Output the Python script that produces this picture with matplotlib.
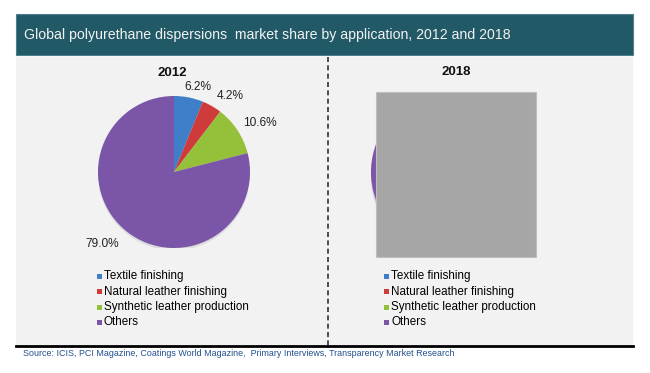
import matplotlib.pyplot as plt
from matplotlib.patches import Rectangle, Circle

plt.rcParams['font.family'] = ['Liberation Sans', 'DejaVu Sans']

# data
applications = ["Textile finishing", "Natural leather finishing",
                "Synthetic leather production", "Others"]
shares_2012 = [6.2, 4.2, 10.6, 79.0]
labels_2012 = ["6.2%", "4.2%", "10.6%", "79.0%"]
# 2018 pie is hidden behind a grey box in the source, only the purple edge shows
shares_2018 = [7.0, 4.5, 12.0, 76.5]
colors = ["#3f7fc9", "#cf3a3a", "#94c03a", "#7b55a8"]

W, H = 650, 373
fig = plt.figure(figsize=(W / 100, H / 100), dpi=100)
fig.patch.set_facecolor("white")

# background axes in pixel coordinates
bg = fig.add_axes([0, 0, 1, 1])
bg.set_xlim(0, W)
bg.set_ylim(H, 0)
bg.axis("off")

bg.add_patch(Rectangle((16, 14), 617, 41, facecolor="#225966", edgecolor="#4f7f8c", lw=0.8))
bg.text(24, 35, "Global polyurethane dispersions  market share by application, 2012 and 2018",
        color="#f2f2f2", fontsize=10.2, va="center", ha="left")
bg.add_patch(Rectangle((16, 57), 617, 288, facecolor="#f2f2f2", edgecolor="none"))
bg.plot([16, 633], [346, 346], color="black", lw=2)
bg.plot([328, 328], [57, 345], color="#333333", lw=1.2, ls=(0, (3, 2)))
bg.text(23, 354, "Source: ICIS, PCI Magazine, Coatings World Magazine,  Primary Interviews, Transparency Market Research",
        color="#1f4e8c", fontsize=6.4, va="center", ha="left")

bg.text(172, 73, "2012", fontsize=9.5, fontweight="bold", ha="center", va="center", color="#111111")
bg.text(456, 72, "2018", fontsize=9.5, fontweight="bold", ha="center", va="center", color="#111111")


def pie_axes(cx, cy, r):
    ax = fig.add_axes([(cx - r) / W, (H - cy - r) / H, 2 * r / W, 2 * r / H])
    return ax


# 2012 pie
ax1 = pie_axes(174, 172, 76)
ax1.add_patch(Circle((0.0, -0.03), 1.0, facecolor="#dcdcdc", edgecolor="none", zorder=0))
wedges, _ = ax1.pie(shares_2012, colors=colors, startangle=90, counterclock=False,
                    wedgeprops=dict(linewidth=0))
ax1.set_xlim(-1, 1)
ax1.set_ylim(-1, 1)
for (lx, ly), lab in zip([(0.32, 1.12), (0.74, 1.0), (1.13, 0.65), (-0.94, -0.95)], labels_2012):
    ax1.text(lx, ly, lab, fontsize=8.6, ha="center", va="center", color="#222222",
             clip_on=False)

# 2018 pie (mostly covered)
ax2 = pie_axes(451, 172, 80)
ax2.add_patch(Circle((0.0, -0.06), 1.0, facecolor="#d0d0d0", edgecolor="none", zorder=0))
ax2.pie(shares_2018, colors=colors, startangle=90, counterclock=False,
        wedgeprops=dict(linewidth=0))
ax2.set_xlim(-1, 1)
ax2.set_ylim(-1, 1)
for sp in ax2.patches:
    sp.set_clip_on(False)

cover = fig.add_axes([0, 0, 1, 1])
cover.set_xlim(0, W)
cover.set_ylim(H, 0)
cover.axis("off")
cover.add_patch(Rectangle((376, 92), 160, 165, facecolor="#a6a6a6", edgecolor="#bdbdbd", lw=0.8))

# legends
for x0 in (97, 384):
    for i, (name, c) in enumerate(zip(applications, colors)):
        y = 276.5 + i * 15.3
        cover.add_patch(Rectangle((x0, y - 2.5), 5, 5, facecolor=c, edgecolor="none"))
        cover.text(x0 + 7, y, name, fontsize=8.4, va="center", ha="left", color="#000000")

fig.savefig("out.png", dpi=100, facecolor="white")
